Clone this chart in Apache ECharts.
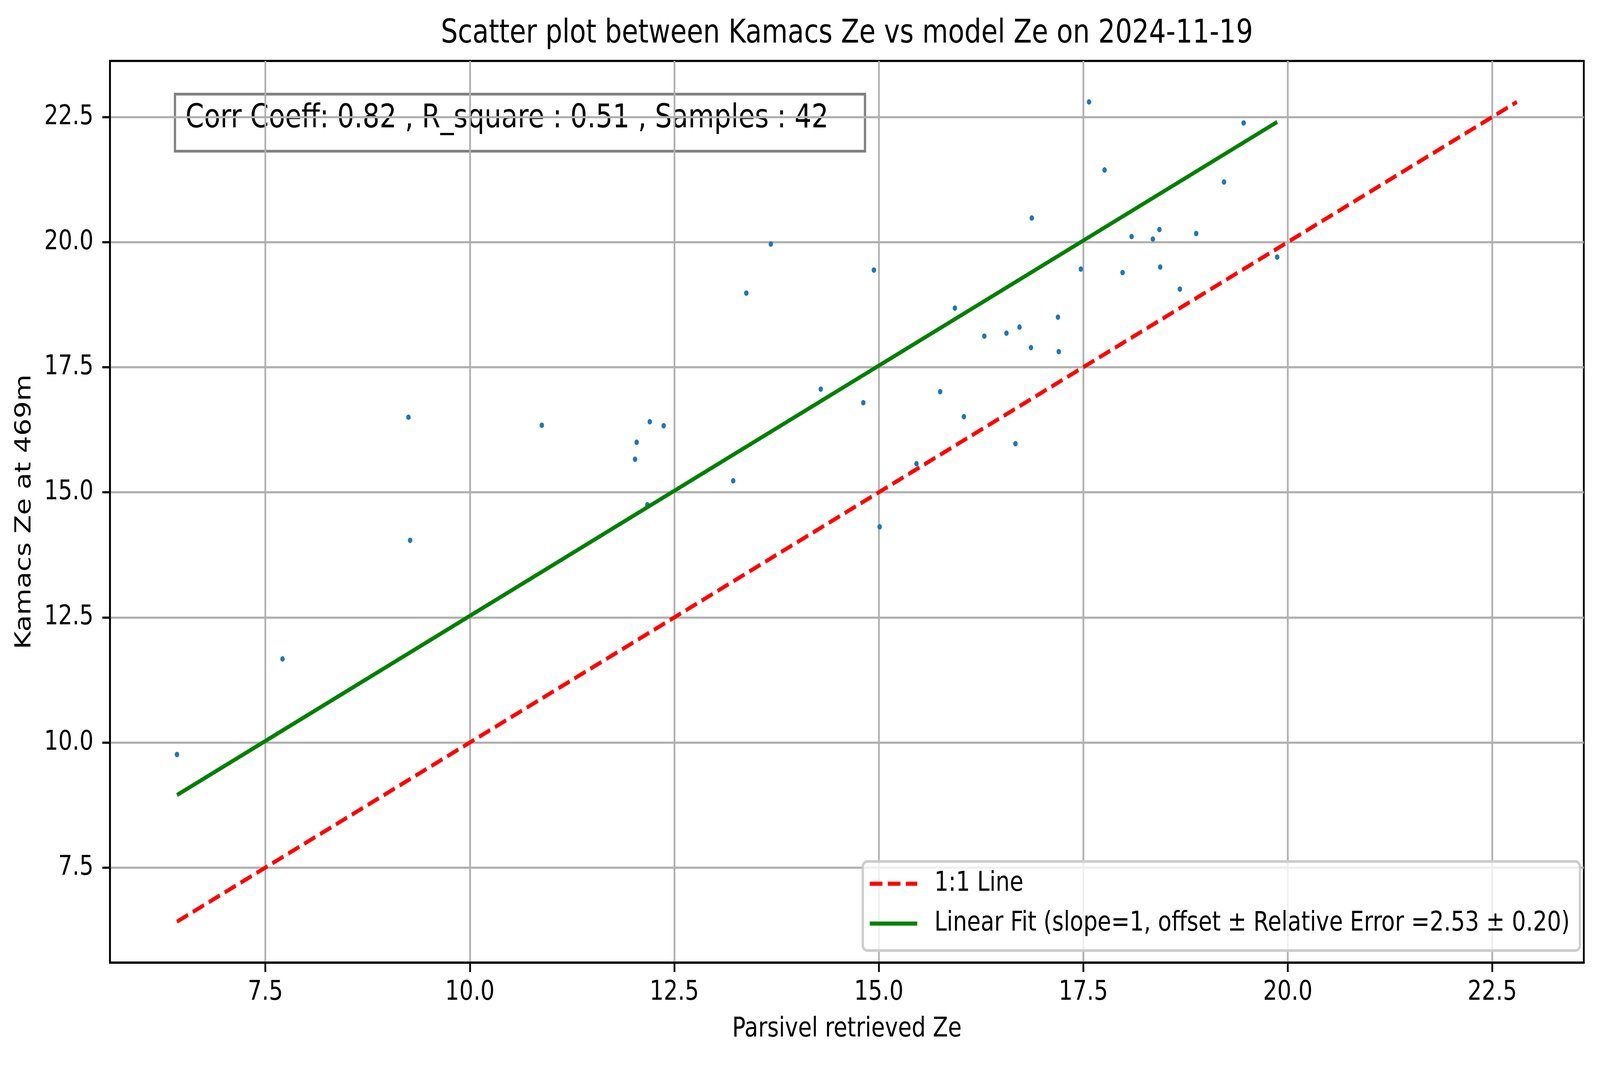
<!DOCTYPE html>
<html>
<head>
<meta charset="utf-8">
<script src="https://cdn.jsdelivr.net/npm/echarts@6/dist/echarts.min.js"></script>
<style>
html,body{margin:0;padding:0;background:#fff;overflow:hidden;}
#chart{width:5048px;height:2726px;transform-origin:0 0;}
</style>
</head>
<body>
<div id="chart"></div>
<script>
// ---- data ----
const parsivelZe = [6.42, 7.71, 9.25, 9.27, 10.88, 12.02, 12.04, 12.20, 12.17, 12.37,
  13.22, 13.38, 13.68, 14.29, 14.81, 14.94, 15.01, 15.46, 15.75, 15.93,
  16.04, 16.29, 16.56, 16.67, 16.72, 16.86, 16.87, 17.19, 17.20, 17.47,
  17.57, 17.76, 17.98, 18.09, 18.35, 18.43, 18.44, 18.68, 18.88, 19.22,
  19.46, 19.87];
const kamacsZe = [9.76, 11.67, 16.50, 14.04, 16.34, 15.66, 16.00, 16.41, 14.75, 16.33,
  15.23, 18.98, 19.96, 17.06, 16.79, 19.44, 14.31, 15.57, 17.01, 18.68,
  16.51, 18.12, 18.18, 15.97, 18.30, 17.89, 20.48, 18.50, 17.81, 19.46,
  22.80, 21.44, 19.39, 20.11, 20.06, 20.25, 19.50, 19.06, 20.17, 21.20,
  22.38, 19.70];
const fitOffset = 2.53;
const fitError = 0.20;
const corrCoeff = 0.82;
const rSquare = 0.51;
const tickValues = [7.5, 10.0, 12.5, 15.0, 17.5, 20.0, 22.5];
const titleText = 'Scatter plot between Kamacs Ze vs model Ze on 2024-11-19';
const xName = 'Parsivel retrieved Ze';
const yName = 'Kamacs Ze at 469m';
const legendNames = ['1:1 Line', 'Linear Fit (slope=1, offset \u00b1 Relative Error =' + fitOffset.toFixed(2) + ' \u00b1 ' + fitError.toFixed(2) + ')'];

// ---- derived ----
const points = parsivelZe.map((x, i) => [x, kamacsZe[i]]);
const allVals = parsivelZe.concat(kamacsZe);
const lo = Math.min(...allVals), hi = Math.max(...allVals);
const xMinData = Math.min(...parsivelZe), xMaxData = Math.max(...parsivelZe);
const oneToOne = [[lo, lo], [hi, hi]];
const fitLine = [[xMinData, xMinData + fitOffset], [xMaxData, xMaxData + fitOffset]];
const pad = 0.05 * (hi - lo);
const axMin = lo - pad, axMax = hi + pad;

// the page is laid out at the reference size and fitted into the actual window
const el = document.getElementById('chart');
const sx = window.innerWidth / 5048, sy = window.innerHeight / 2726;
el.style.transform = 'scale(' + sx + ',' + sy + ')';

const FONT = 'DejaVu Sans';
const chart = echarts.init(el, null, {renderer: 'canvas', width: 5048, height: 2726});

const axisCommon = {
  type: 'value',
  min: axMin,
  max: axMax,
  axisLine: {show: true, onZero: false, lineStyle: {color: '#000', width: 5.6}},
  axisTick: {show: true, inside: false, length: 24, lineStyle: {color: '#000', width: 5.6}, customValues: tickValues},
  axisLabel: {show: true, customValues: tickValues, color: '#000', fontFamily: FONT, fontSize: 70,
    formatter: v => Number(v).toFixed(1)},
  splitLine: {show: true, lineStyle: {color: '#b0b0b0', width: 5.6}},
  nameLocation: 'middle',
  nameTextStyle: {color: '#000', fontFamily: FONT, fontSize: 70}
};

const dashIcon = 'path://M0,0H40V10.5H0Z M57,0H97V10.5H57Z M114,0H150V10.5H114Z';
const solidIcon = 'path://M0,0H150V10.5H0Z';

chart.setOption({
  animation: false,
  backgroundColor: '#fff',
  title: {
    text: titleText,
    left: 2672,
    top: 45,
    padding: 0,
    textAlign: 'center',
    textStyle: {color: '#000', fontFamily: FONT, fontSize: 84, fontWeight: 'normal'}
  },
  grid: {
    left: 347, right: 51, top: 156, bottom: 262,
    show: true, borderColor: '#000', borderWidth: 5.6, backgroundColor: 'transparent'
  },
  xAxis: Object.assign({}, axisCommon, {
    name: xName, nameGap: 136,
    axisLabel: Object.assign({}, axisCommon.axisLabel, {margin: 42})
  }),
  yAxis: Object.assign({}, axisCommon, {
    name: yName, nameGap: 234, nameRotate: 90,
    axisLabel: Object.assign({}, axisCommon.axisLabel, {margin: 52})
  }),
  legend: {
    show: true,
    orient: 'vertical',
    left: 2722,
    top: 2205,
    padding: [22, 32, 34, 22],
    itemWidth: 150,
    itemHeight: 70,
    itemGap: 32,
    selectedMode: false,
    backgroundColor: 'rgba(255,255,255,0.8)',
    borderColor: '#cccccc',
    borderWidth: 7,
    borderRadius: 14,
    textStyle: {color: '#000', fontFamily: FONT, fontSize: 70, padding: [0, 0, 0, 49]},
    data: [{name: legendNames[0], icon: dashIcon}, {name: legendNames[1], icon: solidIcon}]
  },
  graphic: [{
    type: 'group',
    z: 100,
    children: [{
      type: 'rect',
      shape: {x: 552, y: 241, width: 2177, height: 146},
      style: {fill: 'rgba(255,255,255,0.5)', stroke: 'rgba(0,0,0,0.5)', lineWidth: 7}
    }, {
      type: 'text',
      x: 585, y: 304,
      style: {
        text: 'Corr Coeff: ' + corrCoeff.toFixed(2) + ' , R_square : ' + rSquare.toFixed(2) + ' , Samples : ' + points.length,
        fill: '#000', font: '84px "DejaVu Sans"', verticalAlign: 'middle'
      }
    }]
  }],
  series: [{
    type: 'scatter',
    name: 'data',
    data: points,
    symbolSize: 14,
    itemStyle: {color: '#1f77b4', opacity: 1},
    z: 2
  }, {
    type: 'line',
    name: legendNames[0],
    data: oneToOne,
    showSymbol: false,
    symbol: 'none',
    lineStyle: {color: '#ff0000', width: 10.5, type: [39, 17]},
    itemStyle: {color: '#ff0000'},
    z: 3
  }, {
    type: 'line',
    name: legendNames[1],
    data: fitLine,
    showSymbol: false,
    symbol: 'none',
    lineStyle: {color: '#008000', width: 10.5, type: 'solid'},
    itemStyle: {color: '#008000'},
    z: 3
  }]
});
</script>
</body>
</html>
